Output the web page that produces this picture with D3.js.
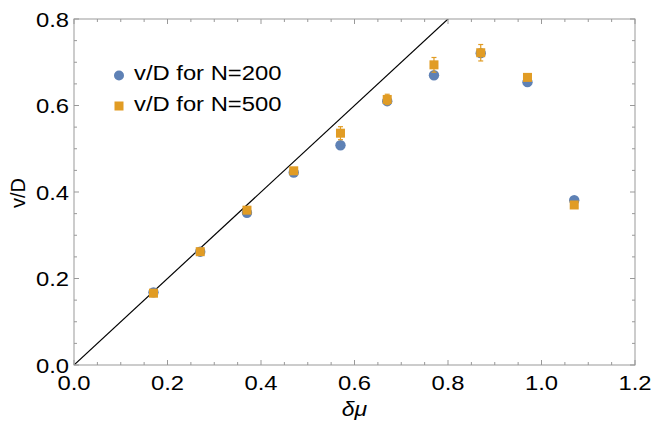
<!DOCTYPE html>
<html>
<head>
<meta charset="utf-8">
<style>
  body { margin: 0; background: #fff; }
  text { font-family: "Liberation Sans", Arial, sans-serif; fill: #000; }
</style>
</head>
<body>
<script src="https://cdn.jsdelivr.net/npm/d3@7"></script>
<script>
// data
var dmu = [0.17, 0.27, 0.37, 0.47, 0.57, 0.67, 0.77, 0.87, 0.97, 1.07];
var n200 = [0.168, 0.262, 0.352, 0.445, 0.508, 0.610, 0.670, 0.721, 0.654, 0.381];
var n500 = [0.166, 0.262, 0.358, 0.449, 0.536, 0.614, 0.694, 0.722, 0.665, 0.370];
var n500err = [0.004, 0.004, 0.005, 0.005, 0.015, 0.012, 0.017, 0.019, 0.006, 0.004];
var xTicks = [0, 0.2, 0.4, 0.6, 0.8, 1.0, 1.2];
var yTicks = [0, 0.2, 0.4, 0.6, 0.8];
var legendLabels = ["v/D for N=200", "v/D for N=500"];

var W = 654, H = 428;
var blue = "#5E81B5", orange = "#E19C24", axisCol = "#999";
var sx = 1.19; // the text in the picture is stretched sideways

var x = d3.scaleLinear().domain([0, 1.2]).range([74, 635]);
var y = d3.scaleLinear().domain([0, 0.8]).range([365, 19]);

var svg = d3.select("body").append("svg").attr("width", W).attr("height", H);

// helper: stretched text
function label(g, px, py, str, anchor, size) {
  return g.append("text")
    .attr("transform", "translate(" + px + "," + py + ") scale(" + sx + ",1)")
    .attr("text-anchor", anchor)
    .style("font-size", size + "px")
    .text(str);
}

// plot content clipped to frame
svg.append("clipPath").attr("id", "clip").append("rect")
  .attr("x", x(0)).attr("y", y(0.8)).attr("width", x(1.2) - x(0)).attr("height", y(0) - y(0.8));

var plot = svg.append("g").attr("clip-path", "url(#clip)");
plot.append("line")
  .attr("x1", x(0)).attr("y1", y(0)).attr("x2", x(1.0)).attr("y2", y(1.0))
  .attr("stroke", "#000").attr("stroke-width", 1.2);

// frame and ticks
var frame = svg.append("g");
frame.append("rect")
  .attr("x", x(0)).attr("y", y(0.8)).attr("width", x(1.2) - x(0)).attr("height", y(0) - y(0.8))
  .attr("fill", "none").attr("stroke", axisCol).attr("stroke-width", 1);

var xMinor = d3.range(0, 1.2001, 0.05);
var yMinor = d3.range(0, 0.8001, 0.05);
function isMajor(v) { return Math.abs(v * 5 - Math.round(v * 5)) < 1e-6; }

xMinor.forEach(function (v) {
  var len = isMajor(v) ? 5 : 3;
  frame.append("line").attr("x1", x(v)).attr("x2", x(v)).attr("y1", y(0)).attr("y2", y(0) - len).attr("stroke", axisCol);
  frame.append("line").attr("x1", x(v)).attr("x2", x(v)).attr("y1", y(0.8)).attr("y2", y(0.8) + len).attr("stroke", axisCol);
});
yMinor.forEach(function (v) {
  var len = isMajor(v) ? 5 : 3;
  frame.append("line").attr("y1", y(v)).attr("y2", y(v)).attr("x1", x(0)).attr("x2", x(0) + len).attr("stroke", axisCol);
  frame.append("line").attr("y1", y(v)).attr("y2", y(v)).attr("x1", x(1.2)).attr("x2", x(1.2) - len).attr("stroke", axisCol);
});

xTicks.forEach(function (v) { label(svg, x(v), 390, d3.format(".1f")(v), "middle", 20); });
yTicks.forEach(function (v) { label(svg, 69, y(v) + 7.5, d3.format(".1f")(v), "end", 20); });

// axis titles
svg.append("text")
  .attr("transform", "translate(25," + 193 + ") rotate(-90)")
  .attr("text-anchor", "middle").style("font-size", "20px").text("v/D");
svg.append("text")
  .attr("transform", "translate(" + x(0.6) + ",416) scale(1.15,1)")
  .attr("text-anchor", "middle").style("font-size", "20px").style("font-style", "italic").text("δμ");

// N=200 circles
svg.append("g").selectAll("circle").data(dmu).join("circle")
  .attr("cx", function (d) { return x(d); })
  .attr("cy", function (d, i) { return y(n200[i]); })
  .attr("r", 5.2).attr("fill", blue);

// N=500 error bars
var eb = svg.append("g").attr("stroke", orange).attr("stroke-width", 1.2);
dmu.forEach(function (d, i) {
  var top = y(n500[i] + n500err[i]), bot = y(n500[i] - n500err[i]);
  eb.append("line").attr("x1", x(d)).attr("x2", x(d)).attr("y1", top).attr("y2", bot);
  eb.append("line").attr("x1", x(d) - 2.5).attr("x2", x(d) + 2.5).attr("y1", top).attr("y2", top);
  eb.append("line").attr("x1", x(d) - 2.5).attr("x2", x(d) + 2.5).attr("y1", bot).attr("y2", bot);
});

// N=500 squares
var s = 9;
svg.append("g").selectAll("rect").data(dmu).join("rect")
  .attr("x", function (d) { return x(d) - s / 2; })
  .attr("y", function (d, i) { return y(n500[i]) - s / 2; })
  .attr("width", s).attr("height", s).attr("fill", orange);

// legend
svg.append("circle").attr("cx", 119).attr("cy", 75.5).attr("r", 5).attr("fill", blue);
svg.append("rect").attr("x", 114.5).attr("y", 101.5).attr("width", 9).attr("height", 9).attr("fill", orange);
label(svg, 134, 80, legendLabels[0], "start", 20);
label(svg, 134, 111, legendLabels[1], "start", 20);
</script>
</body>
</html>
